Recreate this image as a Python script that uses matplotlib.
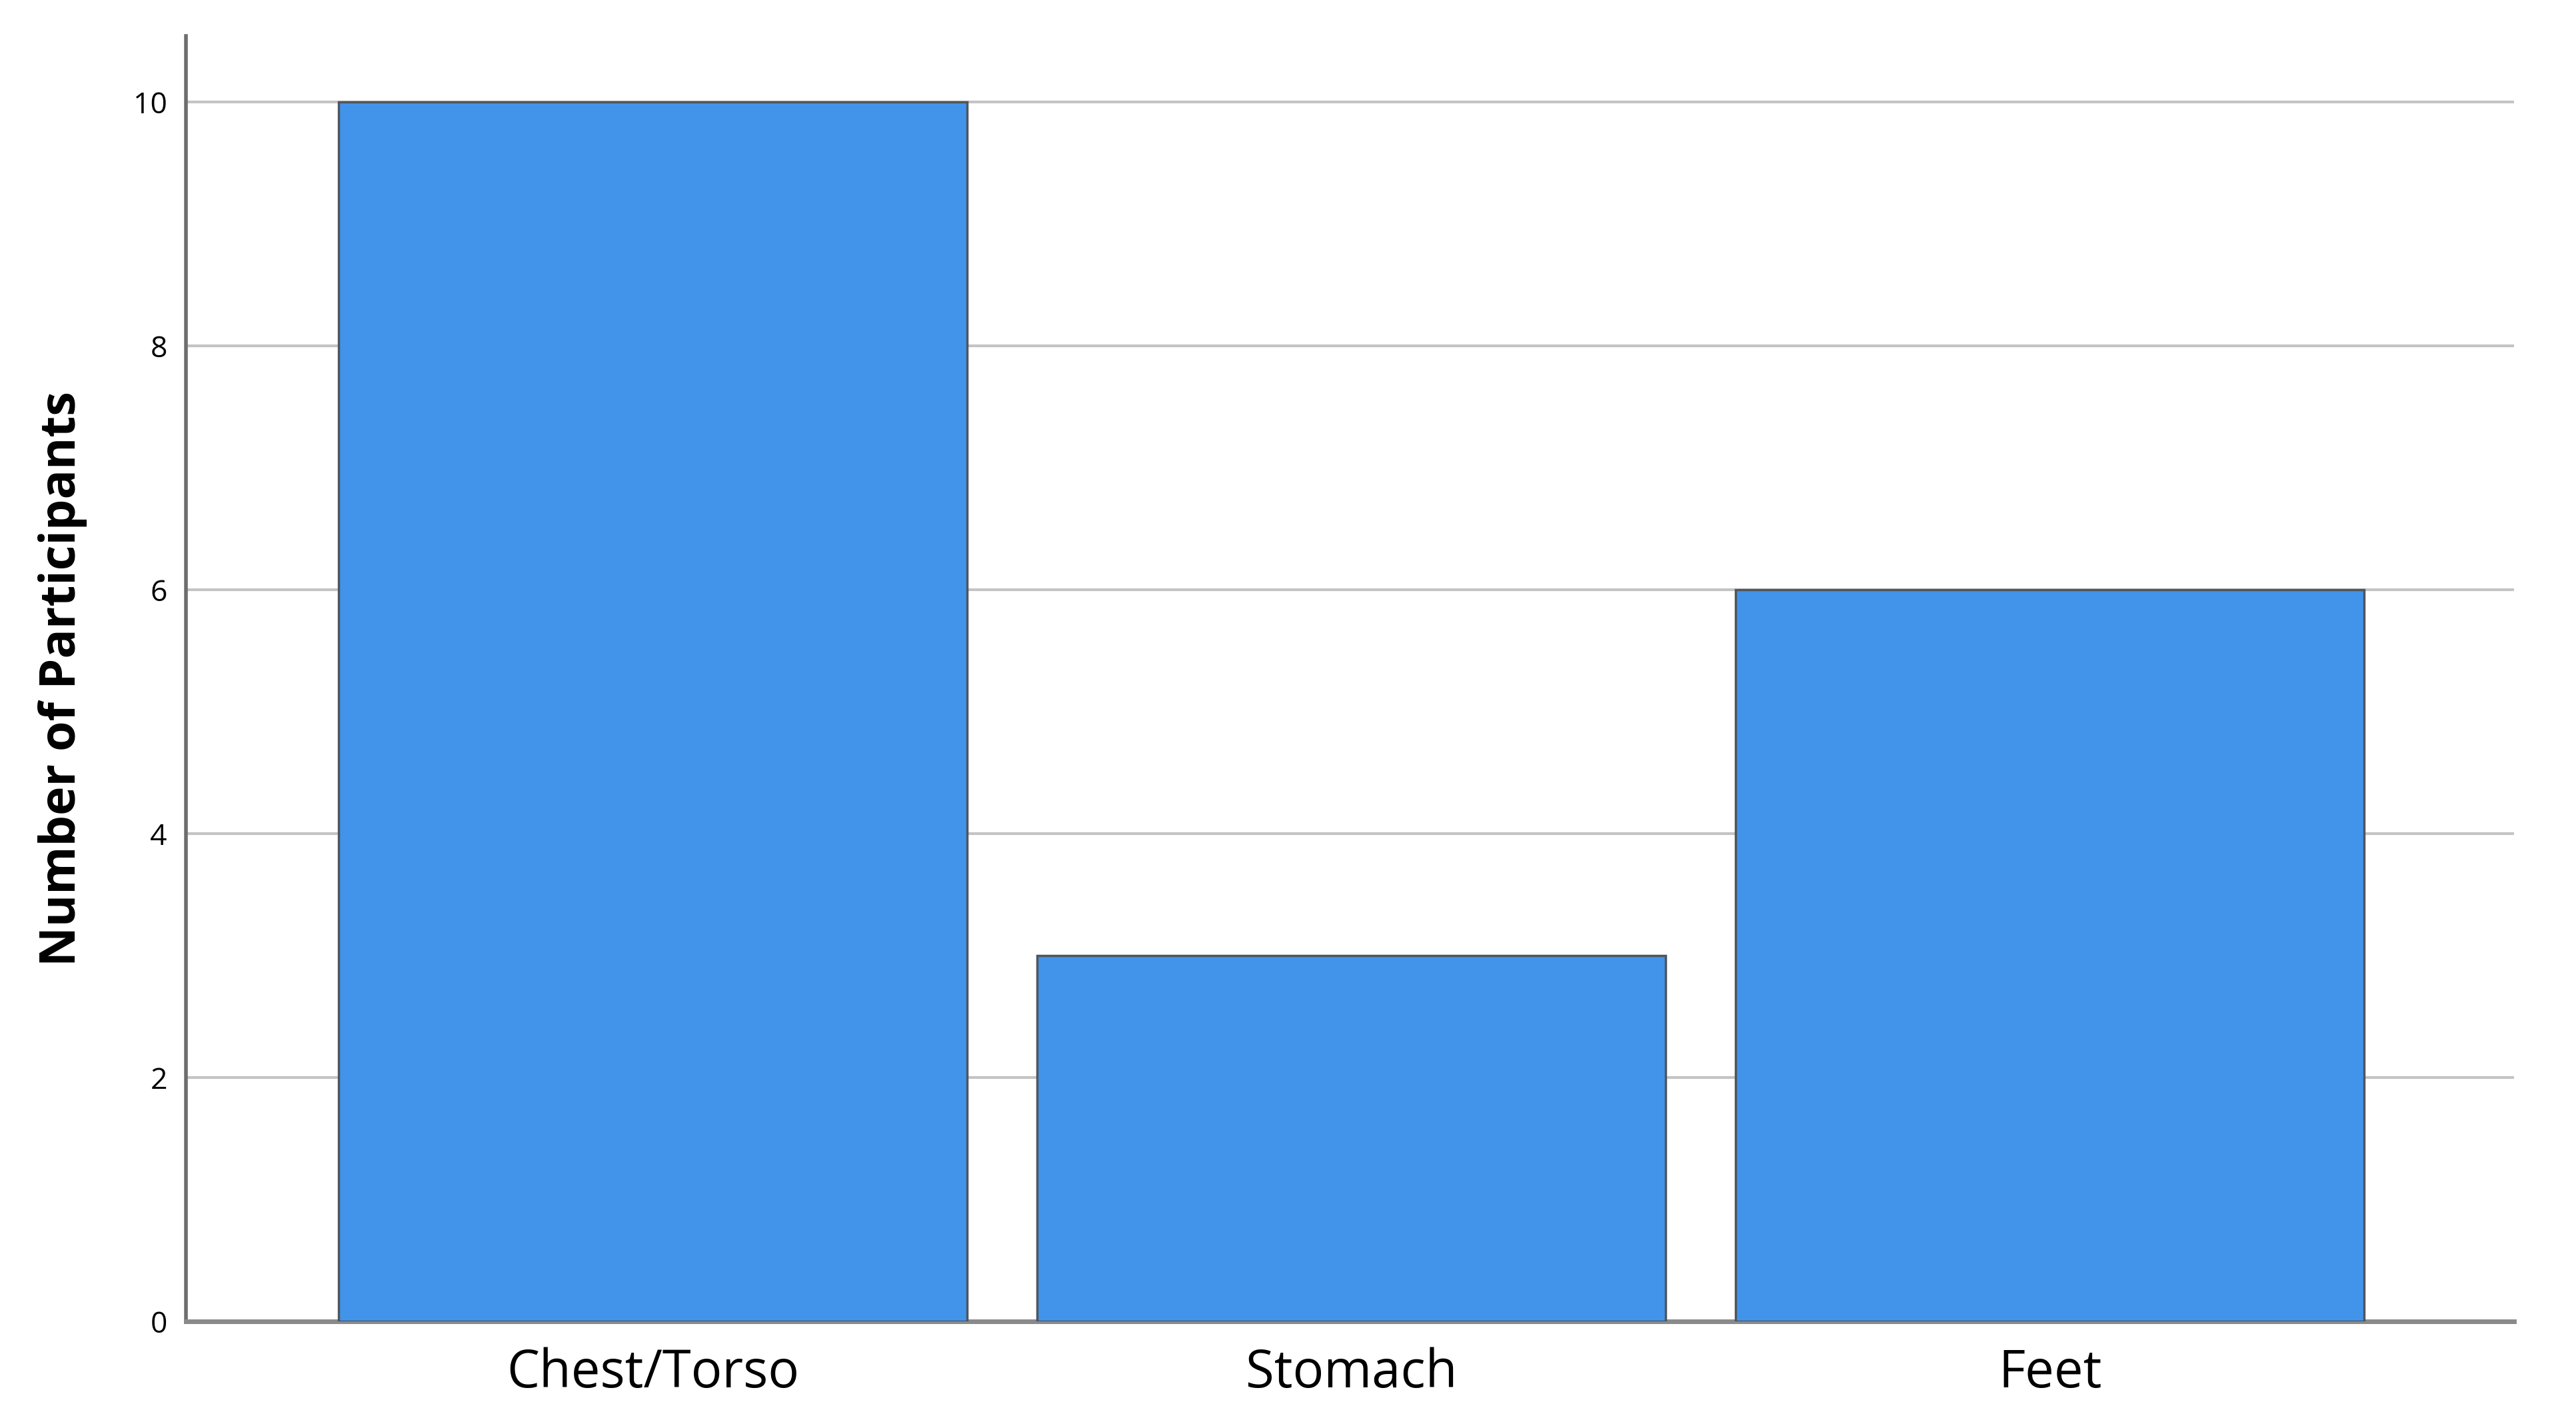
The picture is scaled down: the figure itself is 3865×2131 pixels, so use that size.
import matplotlib
matplotlib.use('Agg')
import matplotlib.pyplot as plt

categories = ['Chest/Torso', 'Stomach', 'Feet']
counts = [10, 3, 6]
yticks = [0, 2, 4, 6, 8, 10]

plt.rcParams['font.family'] = ['Open Sans', 'DejaVu Sans']

fig = plt.figure(figsize=(38.66, 21.31), dpi=100)
ax = fig.add_axes([0.0721, 0.0694, 0.9037, 0.9051])

x = range(len(categories))
ax.bar(x, counts, width=0.9, color='#4294ea', edgecolor='#50555c',
       linewidth=2.5, zorder=3)

ax.set_xlim(-0.669, 2.665)
ax.set_ylim(0, 10.54)
ax.set_yticks(yticks)
ax.set_yticklabels([str(v) for v in yticks], fontsize=32)
ax.set_xticks(list(x))
ax.set_xticklabels(categories, fontsize=56)
ax.tick_params(axis='x', length=0, pad=28)
ax.tick_params(axis='y', length=0, pad=20)

ax.grid(axis='y', color='#c4c4c4', linewidth=3, zorder=0)
ax.set_axisbelow(True)

for s in ['top', 'right']:
    ax.spines[s].set_visible(False)
ax.spines['left'].set_color('#6e6e6e')
ax.spines['left'].set_linewidth(4)
ax.spines['bottom'].set_color('#8a8a8a')
ax.spines['bottom'].set_linewidth(5)

ax.set_ylabel('Number of Participants', fontsize=53, fontweight='bold', labelpad=50)

fig.savefig('out.png', dpi=100, facecolor='white')
